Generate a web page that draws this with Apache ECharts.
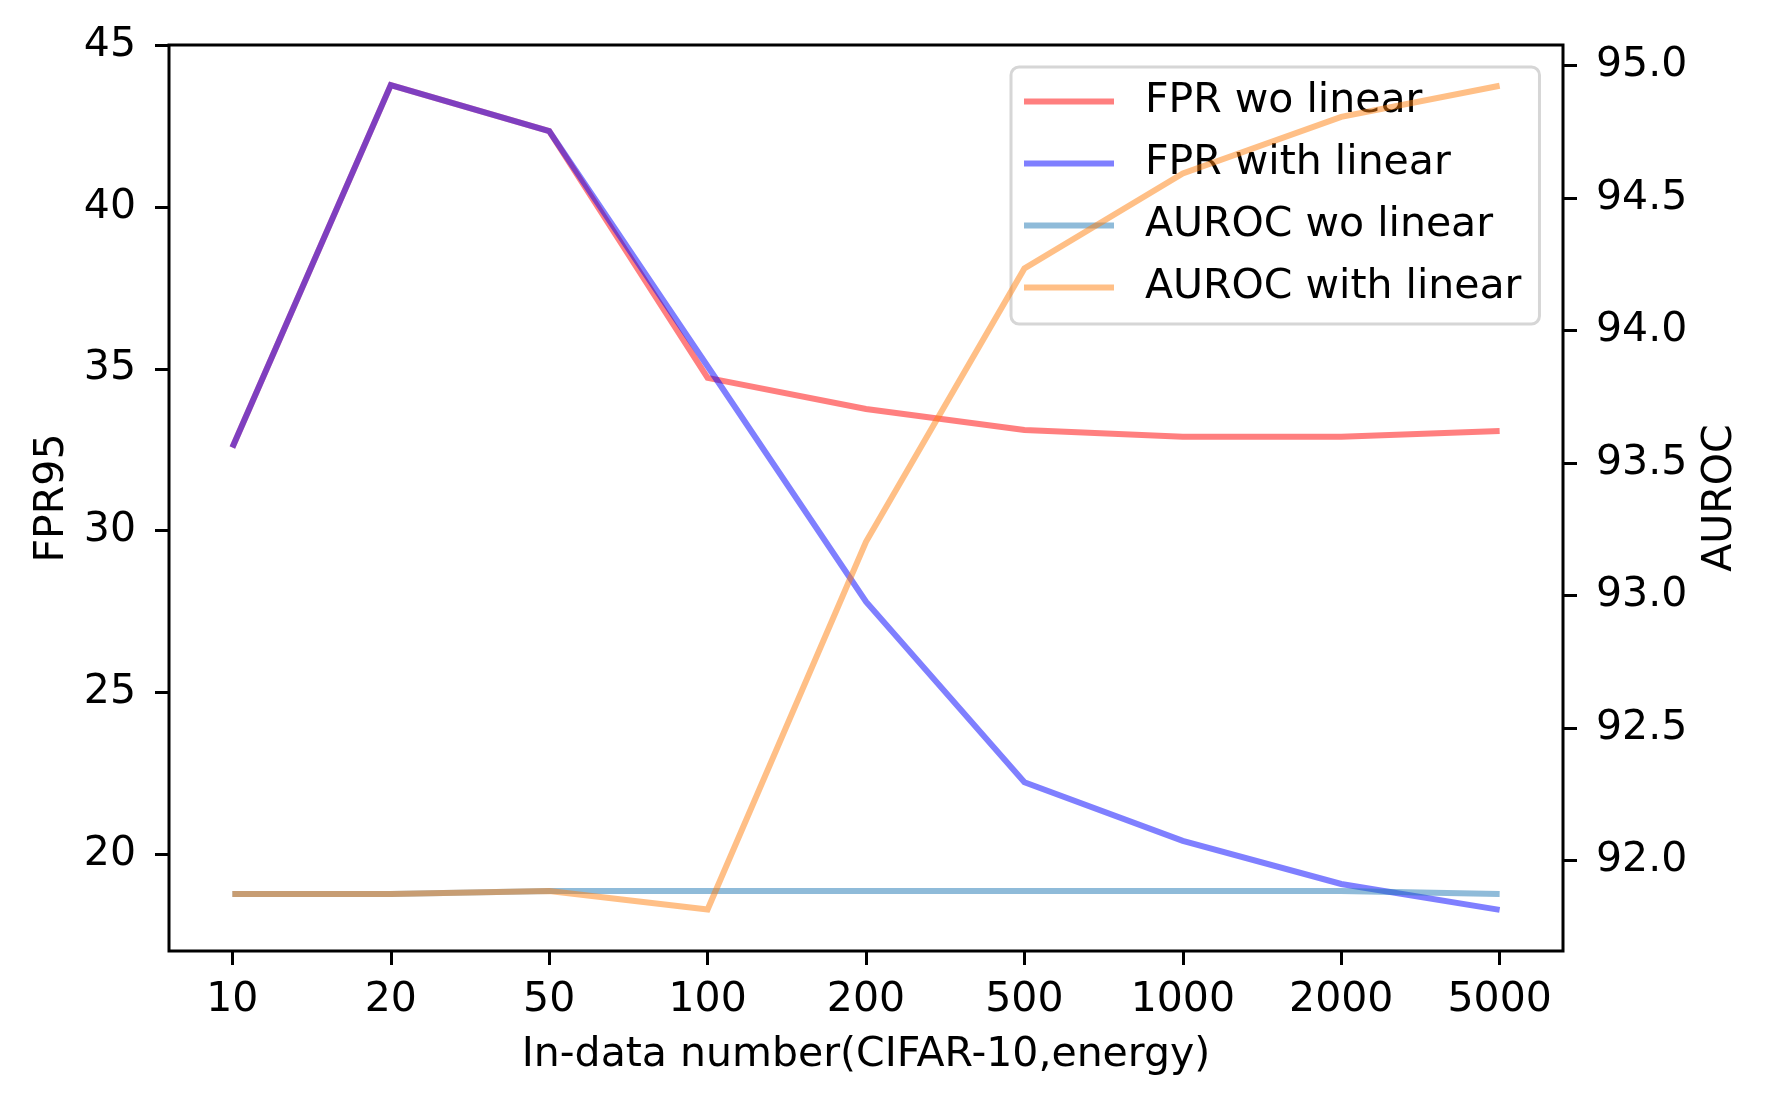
<!DOCTYPE html>
<html>
<head>
<meta charset="utf-8">
<script src="https://cdn.jsdelivr.net/npm/echarts@6/dist/echarts.min.js"></script>
<style>
html,body{margin:0;padding:0;background:#fff;}
#chart{width:1772px;height:1107px;}
</style>
</head>
<body>
<div id="chart"></div>
<script>
const categories = ['10', '20', '50', '100', '200', '500', '1000', '2000', '5000'];
const fprWoLinear = [32.57, 43.76, 42.34, 34.72, 33.76, 33.11, 32.90, 32.90, 33.08];
const fprWithLinear = [32.57, 43.76, 42.34, 35.08, 27.81, 22.23, 20.42, 19.09, 18.29];
const aurocWoLinear = [91.873, 91.873, 91.884, 91.884, 91.884, 91.884, 91.884, 91.884, 91.873];
const aurocWithLinear = [91.873, 91.873, 91.884, 91.815, 93.202, 94.234, 94.592, 94.806, 94.923];
const leftTicks = [20, 25, 30, 35, 40, 45];
const rightTicks = [92.0, 92.5, 93.0, 93.5, 94.0, 94.5, 95.0];
const xLabel = 'In-data number(CIFAR-10,energy)';
const leftLabel = 'FPR95';
const rightLabel = 'AUROC';

const xIdx = categories.map((c, i) => i);
const pairs = arr => arr.map((v, i) => [xIdx[i], v]);

const FONT = 'DejaVu Sans';
const FS = 41;
const chart = echarts.init(document.getElementById('chart'), null, {renderer: 'canvas'});

function lineSeries(name, data, color, yIndex) {
  return {
    name: name, type: 'line', data: pairs(data), yAxisIndex: yIndex,
    symbol: 'none', showSymbol: false, z: 2,
    lineStyle: {color: color, width: 6, cap: 'butt', join: 'miter'},
    itemStyle: {color: color},
    emphasis: {disabled: true}
  };
}

const tickStyle = {show: true, length: 14, lineStyle: {color: '#000', width: 3}};
const hiddenLine = {show: false, onZero: false};

chart.setOption({
  animation: false,
  backgroundColor: '#fff',
  textStyle: {fontFamily: FONT},
  grid: {left: 169, top: 45, right: 209, bottom: 156, show: true, borderColor: '#000', borderWidth: 3, backgroundColor: 'transparent', containLabel: false},
  legend: {
    show: true, orient: 'vertical', left: 1011, top: 67, z: 1,
    icon: 'rect', itemWidth: 90, itemHeight: 6, itemGap: 21,
    padding: [14, 18, 16, 13],
    backgroundColor: 'rgba(255,255,255,0.8)', borderColor: '#d6d6d6', borderWidth: 3, borderRadius: 8,
    textStyle: {fontFamily: FONT, fontSize: FS, color: '#000', lineHeight: 40, padding: [0, 0, 0, 26]},
    data: ['FPR wo linear', 'FPR with linear', 'AUROC wo linear', 'AUROC with linear']
  },
  xAxis: {
    type: 'value', min: -0.4, max: 8.4, position: 'bottom',
    name: xLabel, nameLocation: 'middle', nameGap: 84,
    nameTextStyle: {fontFamily: FONT, fontSize: FS, color: '#000'},
    axisLine: hiddenLine,
    axisTick: Object.assign({customValues: xIdx}, tickStyle),
    axisLabel: {customValues: xIdx, formatter: v => categories[Math.round(v)], fontFamily: FONT, fontSize: FS, color: '#000', margin: 29},
    splitLine: {show: false}
  },
  yAxis: [
    {
      type: 'value', position: 'left', min: 17.02, max: 45,
      name: leftLabel, nameLocation: 'middle', nameGap: 93, nameRotate: 90,
      nameTextStyle: {fontFamily: FONT, fontSize: FS, color: '#000'},
      axisLine: hiddenLine,
      axisTick: Object.assign({customValues: leftTicks}, tickStyle),
      axisLabel: {customValues: leftTicks, fontFamily: FONT, fontSize: FS, color: '#000', margin: 33, formatter: v => String(Math.round(v))},
      splitLine: {show: false}
    },
    {
      type: 'value', position: 'right', min: 91.658, max: 95.077,
      name: rightLabel, nameLocation: 'middle', nameGap: 137, nameRotate: 90,
      nameTextStyle: {fontFamily: FONT, fontSize: FS, color: '#000'},
      axisLine: hiddenLine,
      axisTick: Object.assign({customValues: rightTicks}, tickStyle),
      axisLabel: {customValues: rightTicks, fontFamily: FONT, fontSize: FS, color: '#000', margin: 33, formatter: v => v.toFixed(1)},
      splitLine: {show: false}
    }
  ],
  series: [
    lineSeries('FPR wo linear', fprWoLinear, 'rgba(255,0,0,0.5)', 0),
    lineSeries('FPR with linear', fprWithLinear, 'rgba(0,0,255,0.5)', 0),
    lineSeries('AUROC wo linear', aurocWoLinear, 'rgba(31,119,180,0.5)', 1),
    lineSeries('AUROC with linear', aurocWithLinear, 'rgba(255,127,14,0.5)', 1)
  ]
});
</script>
</body>
</html>
